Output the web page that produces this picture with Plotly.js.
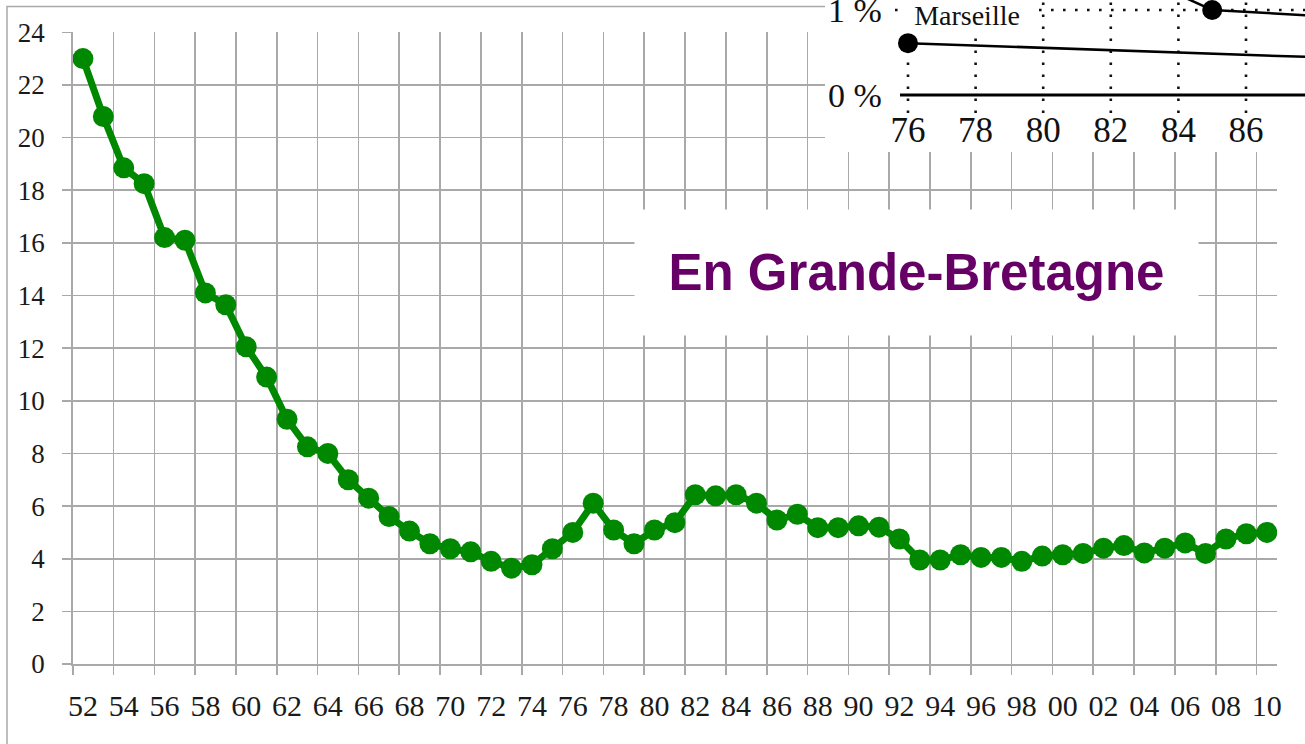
<!DOCTYPE html>
<html><head><meta charset="utf-8">
<script src="https://cdn.plot.ly/plotly-3.0.1.min.js"></script>
<style>html,body{margin:0;padding:0;background:#fff}#chart{width:1305px;height:744px}</style>
</head><body><div id="chart"></div>
<script>
// ---- main chart data ----
const years = [1952,1953,1954,1955,1956,1957,1958,1959,1960,1961,1962,1963,1964,1965,1966,1967,1968,1969,
  1970,1971,1972,1973,1974,1975,1976,1977,1978,1979,1980,1981,1982,1983,1984,1985,1986,1987,1988,1989,
  1990,1991,1992,1993,1994,1995,1996,1997,1998,1999,2000,2001,2002,2003,2004,2005,2006,2007,2008,2009,2010];
const rates = [23.0,20.8,18.85,18.25,16.2,16.1,14.1,13.65,12.05,10.9,9.3,8.25,8.0,7.0,6.3,5.6,5.05,4.57,
  4.38,4.26,3.9,3.64,3.77,4.38,5.0,6.11,5.09,4.57,5.09,5.37,6.43,6.39,6.43,6.11,5.47,5.69,5.18,5.18,
  5.25,5.2,4.75,3.95,3.95,4.15,4.05,4.05,3.9,4.1,4.15,4.2,4.4,4.5,4.22,4.4,4.6,4.2,4.75,4.95,5.0];
const xTickVals = [1952,1954,1956,1958,1960,1962,1964,1966,1968,1970,1972,1974,1976,1978,1980,1982,1984,
  1986,1988,1990,1992,1994,1996,1998,2000,2002,2004,2006,2008,2010];
const xTickText = ["52","54","56","58","60","62","64","66","68","70","72","74","76","78","80","82","84",
  "86","88","90","92","94","96","98","00","02","04","06","08","10"];
const yTickVals = [0,2,4,6,8,10,12,14,16,18,20,22,24];
const boxTitle = "En Grande-Bretagne";

// ---- cropped inset (another chart) ----
const insetTicks = [76,78,80,82,84,86,88];
const insetTickText = ["76","78","80","82","84","86","88"];
const insetYTicks = [0,1];
const insetYText = ["0 %","1 %"];
const marseilleYears = [76,90];
const marseilleVals = [0.61,0.418];
const otherYears = [83,85,90];
const otherVals = [1.36,1.0,0.89];
const insetLabel = "Marseille";

// ---- layout helpers (pixel -> paper) ----
const W = 1305, H = 744;
const fx = p => p / W;
const fy = p => (H - p) / H;
const GRID = '#a9a9a9';
// inset pixel mapping
const i76 = 908, iPerYr = 33.8, i0 = 95, iPerPct = 85;
const ix = p => 76 + (p - i76) / iPerYr;
const iy = p => (i0 - p) / iPerPct;

const traces = [
  {x: years, y: rates, type: 'scatter', mode: 'lines+markers',
   line: {color: '#008800', width: 7}, marker: {color: '#008800', size: 21},
   xaxis: 'x', yaxis: 'y', hoverinfo: 'x+y'},
  {x: marseilleYears, y: marseilleVals, type: 'scatter', mode: 'lines+markers',
   line: {color: '#000', width: 2.5}, marker: {color: '#000', size: 20},
   xaxis: 'x2', yaxis: 'y2'},
  {x: otherYears, y: otherVals, type: 'scatter', mode: 'lines+markers',
   line: {color: '#000', width: 2.5}, marker: {color: '#000', size: 20},
   xaxis: 'x2', yaxis: 'y2'}
];

const shapes = [
  {type: 'rect', xref: 'paper', yref: 'paper', x0: fx(7), x1: 1.2, y0: -0.2, y1: fy(6.5),
   line: {color: GRID, width: 1.5}, fillcolor: 'rgba(0,0,0,0)', layer: 'below'}
];
insetTicks.forEach(t => shapes.push({type: 'line', xref: 'x2', yref: 'y2', x0: t, x1: t,
  y0: iy(113), y1: 1.3, line: {color: '#111', width: 2.6, dash: '2.6px,9.4px'}, layer: 'between'}));
shapes.push({type: 'line', xref: 'x2', yref: 'y2', x0: ix(895), x1: 92, y0: 1, y1: 1,
  line: {color: '#111', width: 2.6, dash: '2.6px,9.4px'}, layer: 'between'});
shapes.push({type: 'line', xref: 'x2', yref: 'y2', x0: ix(900), x1: 92, y0: 0, y1: 0,
  line: {color: '#000', width: 3}, layer: 'between'});

const layout = {
  width: W, height: H,
  margin: {l: 0, r: 0, t: 0, b: 0},
  paper_bgcolor: '#fff', plot_bgcolor: '#fff',
  showlegend: false,
  xaxis: {
    domain: [fx(72.7), fx(1277)], range: [1951.5, 2010.5], anchor: 'y',
    tickmode: 'array', tickvals: xTickVals, ticktext: xTickText,
    showgrid: false, ticks: '', zeroline: false,
    showline: true, linecolor: GRID, linewidth: 1.6,
    tickfont: {family: 'Liberation Serif, serif', size: 30, color: '#1a1a1a'},
    ticklabelstandoff: 14,
    minor: {tickmode: 'linear', tick0: 1951.5, dtick: 2, showgrid: true, gridcolor: GRID,
            gridwidth: 1.6, ticks: 'outside', ticklen: 9, tickcolor: GRID, tickwidth: 1.6}
  },
  yaxis: {
    domain: [fy(664), fy(32.3)], range: [0, 24], anchor: 'x',
    tickmode: 'array', tickvals: yTickVals,
    showgrid: true, gridcolor: GRID, gridwidth: 1.6, zeroline: false,
    showline: true, linecolor: GRID, linewidth: 1.6,
    ticks: 'outside', ticklen: 9, tickcolor: GRID, tickwidth: 1.6,
    tickfont: {family: 'Liberation Serif, serif', size: 27, color: '#1a1a1a'},
    ticklabelstandoff: 12
  },
  xaxis2: {
    domain: [fx(825), 1], range: [ix(825), ix(1305)], anchor: 'y2',
    tickmode: 'array', tickvals: insetTicks, ticktext: insetTickText,
    ticklabelposition: 'inside', ticklabeloverflow: 'allow',
    showgrid: false, zeroline: false, showline: false, ticks: '',
    tickfont: {family: 'Liberation Serif, serif', size: 35, color: '#111'}
  },
  yaxis2: {
    domain: [fy(152), 1], range: [iy(152), iy(0)], anchor: 'x2',
    tickmode: 'array', tickvals: insetYTicks, ticktext: insetYText,
    ticklabelposition: 'inside', ticklabeloverflow: 'allow',
    showgrid: false, zeroline: false, showline: false, ticks: '',
    tickfont: {family: 'Liberation Serif, serif', size: 34, color: '#111'}
  },
  shapes: shapes,
  annotations: [
    {xref: 'x2', yref: 'y2', x: 76, y: iy(15), xanchor: 'left', yanchor: 'middle', xshift: -6,
     text: insetLabel, showarrow: false, bgcolor: '#fff', width: 128, height: 32, borderpad: 0,
     align: 'center', valign: 'middle',
     font: {family: 'Liberation Serif, serif', size: 28, color: '#111'}},
    {xref: 'paper', yref: 'paper', x: fx(916.5), y: fy(272.5), xanchor: 'center', yanchor: 'middle',
     text: '<b>' + boxTitle + '</b>', showarrow: false, bgcolor: '#fff', width: 563, height: 125,
     borderpad: 0, align: 'center', valign: 'middle',
     font: {family: 'Liberation Sans, Arial, sans-serif', size: 51, color: '#660066'}}
  ]
};

Plotly.newPlot('chart', traces, layout, {displayModeBar: false, staticPlot: true});
</script>
</body></html>
